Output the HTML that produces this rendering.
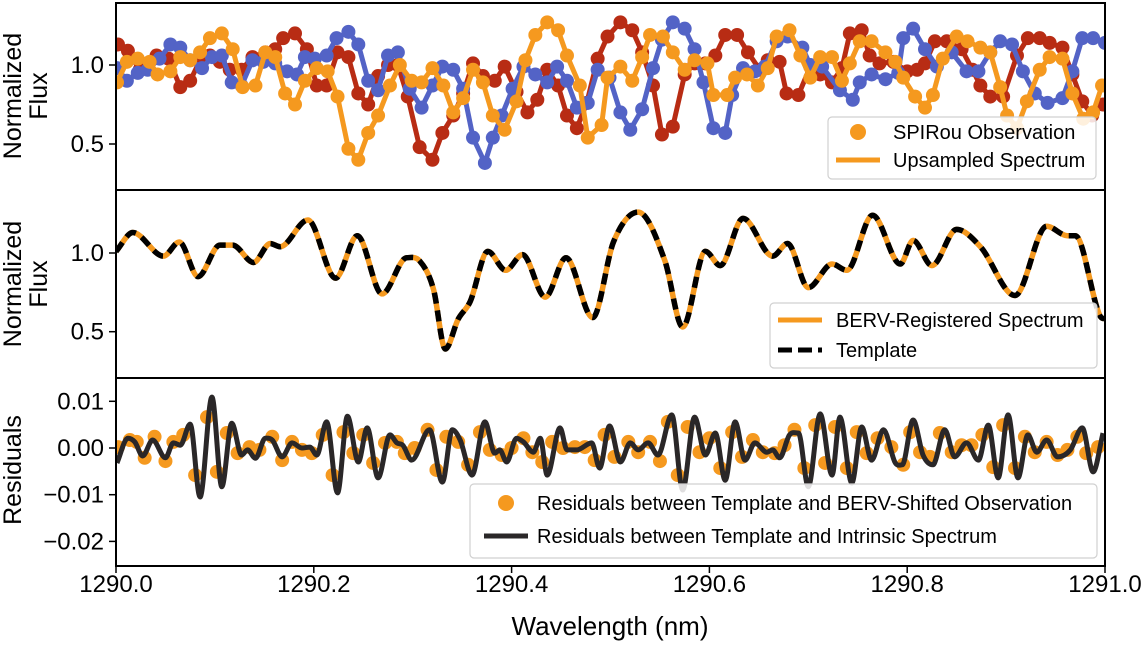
<!DOCTYPE html>
<html><head><meta charset="utf-8"><style>
html,body{margin:0;padding:0;background:#fff}
svg text{font-family:"Liberation Sans",Arial,sans-serif;fill:#000}
</style></head><body>
<svg id="chart" width="1145" height="643" xmlns="http://www.w3.org/2000/svg">
<g id="p1"></g>
<g id="p2"></g>
<g id="p3"></g>
<g id="ax"></g>
</svg>
<script>
// ---------- data ----------
const tplWl=[0,.017,.048,.064,.083,.105,.118,.139,.156,.166,.194,.222,.244,.269,.294,.307,.321,.333,.346,.358,.376,.394,.411,.434,.455,.482,.503,.528,.555,.573,.596,.611,.634,.664,.679,.700,.724,.739,.765,.793,.806,.825,.850,.874,.909,.941,.962,.970,.995,1.0];
const tplFlux=[1.01,1.13,0.98,1.07,0.85,1.05,1.05,0.94,1.06,1.04,1.21,0.84,1.11,0.74,0.97,0.95,0.77,0.39,0.58,0.69,1.01,0.89,0.99,0.72,0.97,0.59,1.07,1.26,0.95,0.53,1.01,0.92,1.22,0.98,1.06,0.78,0.93,0.89,1.24,0.93,1.08,0.92,1.15,1.04,0.73,1.17,1.11,1.11,0.60,0.58];

const orWl=[.001,.011,.022,.034,.042,.055,.065,.075,.085,.095,.107,.118,.128,.141,.151,.161,.171,.181,.191,.203,.214,.224,.235,.245,.255,.265,.277,.287,.299,.309,.320,.331,.341,.351,.361,.371,.381,.393,.405,.414,.424,.436,.447,.456,.469,.477,.491,.497,.510,.522,.532,.540,.553,.563,.575,.585,.598,.604,.618,.626,.638,.649,.659,.668,.681,.692,.702,.712,.724,.734,.742,.752,.764,.778,.788,.796,.808,.818,.826,.836,.850,.861,.874,.884,.894,.901,.911,.921,.934,.944,.957,.967,.978,.988,.997];
const orFlux=[0.89,1.02,1.04,1.02,0.94,0.96,1.05,1.03,1.08,1.17,1.2,1.1,0.86,0.87,1.08,1.05,0.82,0.75,0.9,0.98,0.96,0.8,0.47,0.40,0.57,0.68,0.87,1.0,0.9,0.89,0.98,0.87,0.70,0.79,0.97,0.89,0.68,0.59,0.77,1.03,1.19,1.27,1.22,1.06,0.87,0.54,0.62,0.92,0.99,0.9,1.05,1.19,1.18,1.08,0.97,1.03,1.01,0.81,0.81,0.92,0.94,0.87,0.98,1.18,1.22,1.06,0.92,1.05,1.05,0.9,1.01,1.15,1.15,1.08,1.02,0.92,0.8,0.73,0.81,1.04,1.18,1.15,1.11,1.08,0.86,0.68,0.6,0.77,0.97,1.05,1.04,0.82,0.66,0.7,0.87];

const redWl=[.002,.012,.024,.041,.053,.065,.075,.085,.095,.105,.115,.127,.138,.151,.161,.169,.181,.193,.203,.213,.224,.235,.245,.255,.265,.275,.285,.295,.307,.320,.330,.341,.351,.361,.371,.383,.393,.405,.416,.426,.436,.447,.456,.466,.476,.487,.497,.510,.522,.532,.543,.552,.563,.575,.585,.596,.606,.616,.628,.639,.651,.659,.671,.678,.690,.702,.712,.724,.734,.742,.754,.762,.772,.786,.800,.810,.818,.828,.840,.855,.866,.874,.884,.897,.911,.922,.934,.944,.957,.967,.977,.987,.998];
const redFlux=[1.13,1.09,0.97,1.06,1.04,0.86,0.9,1.03,1.06,1.02,0.97,0.97,1.05,1.08,1.1,1.17,1.2,1.1,0.87,0.87,1.08,1.05,0.82,0.75,0.93,1.0,1.0,0.8,0.48,0.40,0.57,0.68,0.82,1.01,0.93,0.9,0.99,0.83,0.7,0.78,0.97,0.87,0.68,0.6,0.76,1.04,1.18,1.27,1.22,1.08,0.87,0.56,0.61,0.94,1.01,1.01,1.06,1.19,1.19,1.08,0.97,1.03,1.02,0.82,0.81,0.99,0.94,0.89,0.98,1.2,1.22,1.06,1.01,1.02,0.96,0.97,1.01,1.15,1.15,1.1,0.97,0.87,0.8,0.8,1.06,1.17,1.17,1.14,1.11,0.94,0.77,0.68,0.75];

const blueWl=[.001,.011,.022,.032,.044,.055,.065,.075,.087,.097,.107,.117,.127,.138,.149,.161,.173,.183,.191,.201,.213,.223,.235,.245,.255,.265,.275,.285,.297,.309,.320,.330,.341,.351,.361,.373,.381,.390,.401,.412,.424,.436,.446,.456,.466,.477,.487,.499,.510,.520,.532,.543,.552,.563,.575,.585,.594,.604,.616,.623,.634,.646,.656,.668,.679,.694,.702,.714,.732,.745,.752,.764,.778,.791,.796,.806,.818,.830,.845,.860,.872,.884,.894,.906,.917,.929,.942,.957,.967,.977,.988,1.0];
const blueFlux=[0.98,0.9,0.95,0.97,1.04,1.13,1.11,1.03,0.98,1.05,1.06,0.89,0.87,1.03,1.02,1.01,0.96,0.94,1.05,1.04,1.06,1.17,1.21,1.13,0.9,0.84,1.06,1.08,0.85,0.73,0.87,0.99,0.97,0.85,0.54,0.38,0.54,0.68,0.85,0.99,0.94,0.89,0.99,0.9,0.73,0.76,0.97,0.92,0.7,0.59,0.72,0.98,1.16,1.27,1.23,1.1,0.89,0.6,0.57,0.81,0.98,0.96,0.99,1.15,1.18,1.11,1.0,0.99,0.84,0.78,0.89,0.94,0.91,0.95,1.17,1.23,1.1,0.99,1.08,0.96,0.96,1.08,1.15,1.13,0.96,0.82,0.76,0.79,0.96,1.17,1.17,1.14];

const resWl=[.001,.012,.019,.027,.037,.050,.058,.065,.075,.085,.097,.107,.117,.127,.133,.141,.151,.158,.168,.178,.188,.196,.203,.213,.224,.234,.245,.254,.265,.277,.284,.290,.299,.317,.330,.340,.348,.360,.373,.383,.388,.395,.405,.412,.422,.429,.436,.449,.456,.466,.481,.489,.499,.510,.520,.528,.538,.548,.562,.573,.585,.596,.606,.616,.626,.636,.646,.658,.664,.671,.681,.690,.700,.712,.724,.732,.744,.754,.764,.776,.788,.795,.806,.816,.826,.838,.848,.860,.872,.882,.892,.902,.912,.922,.931,.941,.952,.965,.977,.988,.998];
const resVal=[-.0032,.0021,.0013,-.0017,.0017,-.0021,.0011,.0006,.0051,-.0105,.0109,-.0083,.0053,-.0015,-.0004,-.0022,.0021,.0017,-.0019,.0011,0,.0002,-.0015,.0056,-.0096,.0068,-.003,.0043,-.0064,.0028,.0011,.0006,-.0026,.0039,-.0073,.0039,.0017,-.0058,.0056,-.0011,-.0004,-.003,.0021,.0013,-.0009,.0021,-.0058,.0043,-.0004,-.0004,.0011,-.0043,.0047,-.003,.0011,-.0004,.0011,-.0015,.0071,-.009,.0066,-.0015,.0032,-.0069,.0056,-.0026,.0011,-.0009,-.0004,-.0021,.0028,.0032,-.0083,.0073,-.0058,.0066,-.0075,.0045,-.0026,.0039,-.0032,-.0036,.006,-.0015,-.0036,.0039,-.0019,.0011,-.0026,.0049,-.0064,.0071,-.0064,.0028,-.0009,.0017,-.0019,-.0004,.0043,-.0051,.0032];

const dotWl=[.002,.014,.021,.029,.039,.050,.058,.068,.080,.092,.102,.112,.123,.135,.145,.158,.168,.178,.188,.198,.209,.219,.230,.240,.250,.260,.272,.284,.292,.302,.315,.324,.334,.346,.356,.368,.378,.390,.400,.412,.421,.431,.441,.452,.464,.474,.484,.494,.504,.518,.528,.540,.550,.558,.568,.578,.590,.600,.611,.623,.633,.644,.654,.666,.676,.686,.696,.707,.717,.727,.739,.749,.759,.770,.784,.796,.803,.813,.823,.833,.845,.855,.865,.876,.887,.897,.909,.919,.929,.941,.952,.962,.972,.981,.993];
const dotVal=[.0002,.0017,.0013,-.0021,.0024,-.0028,.0013,.0028,-.0058,.0066,-.0051,.0032,-.0011,.0002,-.0004,.0024,-.0026,.0013,-.0004,-.0011,.0028,-.0058,.0034,-.0011,.0028,-.0032,.0011,.0013,-.0011,0,.0039,-.0047,.0024,.0013,-.0036,.0034,-.0004,-.0015,0,.0021,-.0009,-.003,.0013,0,.0002,.0002,-.0026,.0028,-.0019,.0013,-.0009,.0013,-.0028,.0056,-.0058,.0045,-.0009,.0021,-.0043,.0034,-.0019,.0017,-.0009,-.0011,.0006,.0039,-.0043,.0049,-.0032,.0045,-.0043,.0034,-.0011,.0021,.0002,-.0036,.0034,-.0009,-.0019,.0032,-.0009,.0006,.0006,.0028,-.0041,.0049,-.0043,.0024,-.0009,.0013,-.0015,-.0004,.0024,-.0011,.0002];

const xTicks=[0,0.2,0.4,0.6,0.8,1.0];
const xTickLabels=["1290.0","1290.2","1290.4","1290.6","1290.8","1291.0"];
const y1Ticks=[1.0,0.5], y1Labels=["1.0","0.5"];
const y3Ticks=[0.01,0,-0.01,-0.02], y3Labels=["0.01","0.00","\u22120.01","\u22120.02"];

// ---------- scales ----------
const L=116,R=1105;
const X=w=>L+w*(R-L);
const Y1=f=>65-(f-1)*158;
const Y2=f=>253-(f-1)*157.4;
const Y3=r=>448-r*4670;
const NS='http://www.w3.org/2000/svg';
function mk(parent,tag,attrs){const e=document.createElementNS(NS,tag);for(const k in attrs)e.setAttribute(k,attrs[k]);parent.appendChild(e);return e;}
const ORANGE='#f5991f',RED='#b82c14',BLUE='#5363c6',DARK='#2a2728';
const TICKFS=24, TITLEFS=25, LEGFS=20;

function monoPath(xs,ys){
  const n=xs.length,d=[],m=[];
  for(let i=0;i<n-1;i++)d.push((ys[i+1]-ys[i])/(xs[i+1]-xs[i]));
  for(let i=0;i<n;i++){
    if(i===0)m.push(d[0]);else if(i===n-1)m.push(d[n-2]);
    else m.push(d[i-1]*d[i]<=0?0:(d[i-1]+d[i])/2);
  }
  let p='M'+xs[0].toFixed(2)+','+ys[0].toFixed(2);
  for(let i=0;i<n-1;i++){
    const h=xs[i+1]-xs[i];
    p+=' C'+(xs[i]+h/3).toFixed(2)+','+(ys[i]+m[i]*h/3).toFixed(2)+' '+(xs[i+1]-h/3).toFixed(2)+','+(ys[i+1]-m[i+1]*h/3).toFixed(2)+' '+xs[i+1].toFixed(2)+','+ys[i+1].toFixed(2);
  }
  return p;
}
function linePath(xs,ys){return xs.map((x,i)=>(i?'L':'M')+x.toFixed(2)+','+ys[i].toFixed(2)).join(' ');}

const svg=document.getElementById('chart');
const defs=mk(svg,'defs',{});
[[3,190],[190,378],[378,566]].forEach((b,i)=>{const c=mk(defs,'clipPath',{id:'c'+(i+1)});mk(c,'rect',{x:L,y:b[0],width:R-L,height:b[1]-b[0]});});

// ---------- panel 1 ----------
const p1=document.getElementById('p1');p1.setAttribute('clip-path','url(#c1)');
[[redWl,redFlux,RED,'red-series'],[blueWl,blueFlux,BLUE,'blue-series'],[orWl,orFlux,ORANGE,'orange-series']].forEach(s=>{
  const g=mk(p1,'g',{});
  
  
  const xs=s[0].map(X),ys=s[1].map(Y1);
  const ln=mk(g,'path',{d:linePath(xs,ys),fill:'none',stroke:s[2],'stroke-width':5,'stroke-linejoin':'round'});
  
  
  xs.forEach((x,i)=>{const c=mk(g,'circle',{cx:x,cy:ys[i],r:7,fill:s[2]});
    
    });
});

// ---------- panel 2 ----------
const p2=document.getElementById('p2');p2.setAttribute('clip-path','url(#c2)');
const tp=monoPath(tplWl.map(X),tplFlux.map(Y2));
const bl=mk(p2,'path',{d:tp,fill:'none',stroke:ORANGE,'stroke-width':5.5});


const tl=mk(p2,'path',{d:tp,fill:'none',stroke:'#000','stroke-width':5.5,'stroke-dasharray':'11 7'});



// ---------- panel 3 ----------
const p3=document.getElementById('p3');p3.setAttribute('clip-path','url(#c3)');
dotWl.forEach((w,i)=>{const c=mk(p3,'circle',{cx:X(w),cy:Y3(dotVal[i]),r:7,fill:ORANGE});
  
  });
const rl=mk(p3,'path',{d:monoPath(resWl.map(X),resVal.map(Y3)),fill:'none',stroke:DARK,'stroke-width':5,'stroke-linejoin':'round'});



// ---------- axes ----------
const ax=document.getElementById('ax');
[[3,190],[190,378],[378,566]].forEach(b=>{const r=mk(ax,'rect',{x:L,y:b[0],width:R-L,height:b[1]-b[0],fill:'none',stroke:'#000','stroke-width':2});
  
  });
function ytick(y,lab){mk(ax,'line',{x1:L-7,x2:L,y1:y,y2:y,stroke:'#000','stroke-width':1.5});
  const t=mk(ax,'text',{x:L-12,y:y+8,'text-anchor':'end','font-size':TICKFS});t.textContent=lab;
  
  }
y1Ticks.forEach((v,i)=>ytick(Y1(v),y1Labels[i]));
y1Ticks.forEach((v,i)=>ytick(Y2(v),y1Labels[i]));
y3Ticks.forEach((v,i)=>ytick(Y3(v),y3Labels[i]));
xTicks.forEach((v,i)=>{mk(ax,'line',{x1:X(v),x2:X(v),y1:566,y2:573,stroke:'#000','stroke-width':1.5});
  const t=mk(ax,'text',{x:X(v),y:592,'text-anchor':'middle','font-size':TICKFS});t.textContent=xTickLabels[i];
  
  });
function ylab(lines,cx,cy,name){const g=mk(ax,'g',{transform:'translate('+cx+','+cy+') rotate(-90)'});
  
  
  lines.forEach((s,i)=>{const t=mk(g,'text',{x:0,y:(i-(lines.length-1)/2)*26+9,'text-anchor':'middle','font-size':TITLEFS});t.textContent=s;});}
ylab(['Normalized','Flux'],25,96,'y-axis-title-top');
ylab(['Normalized','Flux'],25,284,'y-axis-title-middle');
ylab(['Residuals'],12,470,'y-axis-title-residuals');
const xt=mk(ax,'text',{x:610,y:635,'text-anchor':'middle','font-size':26});xt.textContent='Wavelength (nm)';



// legends
function legend(x,y,w,h,items,name){const g=mk(ax,'g',{});
  
  
  mk(g,'rect',{x:x,y:y,width:w,height:h,rx:4,fill:'rgba(255,255,255,0.85)',stroke:'#d0d0d0','stroke-width':1.2});
  items.forEach(it=>{
    if(it.type==='dot')mk(g,'circle',{cx:it.mx,cy:it.y,r:8,fill:it.c});
    else mk(g,'line',{x1:it.mx-22,x2:it.mx+22,y1:it.y,y2:it.y,stroke:it.c,'stroke-width':5,'stroke-dasharray':it.dash||''});
    const t=mk(g,'text',{x:it.tx,y:it.y+7,'font-size':LEGFS});t.textContent=it.label;
    
    
  });}
legend(828,117,268,62,[{type:'dot',mx:858,y:132,c:ORANGE,tx:893,label:'SPIRou Observation'},{type:'line',mx:858,y:160,c:ORANGE,tx:893,label:'Upsampled Spectrum'}],'legend-top');
legend(770,303,327,65,[{type:'line',mx:800,y:320,c:ORANGE,tx:836,label:'BERV-Registered Spectrum'},{type:'line',mx:800,y:350,c:'#000',dash:'14 6',tx:836,label:'Template'}],'legend-middle');
legend(470,484,627,74,[{type:'dot',mx:506,y:503,c:ORANGE,tx:537,label:'Residuals between Template and BERV-Shifted Observation'},{type:'line',mx:506,y:536,c:DARK,tx:537,label:'Residuals between Template and Intrinsic Spectrum'}],'legend-residuals');
</script>
</body></html>
